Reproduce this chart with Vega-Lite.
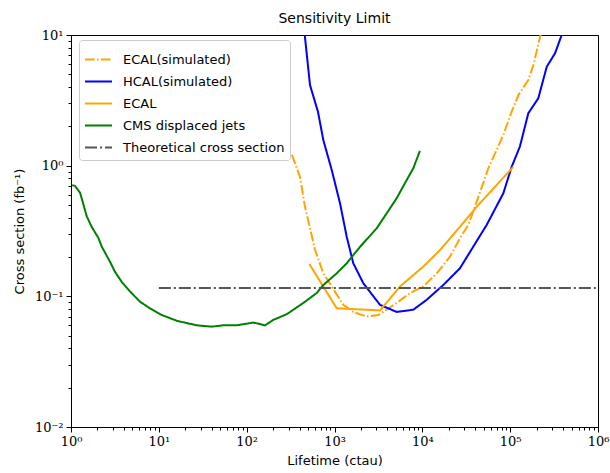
{
  "$schema": "https://vega.github.io/schema/vega-lite/v6.json",
  "width": 527,
  "height": 392,
  "autosize": {"type": "none"},
  "padding": {"left": 71, "top": 35, "right": 12, "bottom": 46},
  "background": "white",
  "title": {"text": "Sensitivity Limit", "font": "DejaVu Sans", "fontSize": 14, "fontWeight": "normal", "color": "black", "offset": 3, "anchor": "middle"},
  "config": {
    "view": {"stroke": "black", "strokeWidth": 1},
    "axis": {"grid": false, "domainColor": "black", "tickColor": "black", "labelColor": "black", "titleColor": "black", "ticks": true, "tickWidth": 1}
  },
  "data": {"values": [
    {"series": "ECAL(simulated)", "x": 328, "y": 1.21},
    {"series": "ECAL(simulated)", "x": 405, "y": 0.82},
    {"series": "ECAL(simulated)", "x": 461, "y": 0.486},
    {"series": "ECAL(simulated)", "x": 526, "y": 0.332},
    {"series": "ECAL(simulated)", "x": 600, "y": 0.227},
    {"series": "ECAL(simulated)", "x": 746, "y": 0.150},
    {"series": "ECAL(simulated)", "x": 929, "y": 0.119},
    {"series": "ECAL(simulated)", "x": 1260, "y": 0.086},
    {"series": "ECAL(simulated)", "x": 1637, "y": 0.076},
    {"series": "ECAL(simulated)", "x": 2326, "y": 0.070},
    {"series": "ECAL(simulated)", "x": 3155, "y": 0.072},
    {"series": "ECAL(simulated)", "x": 3930, "y": 0.079},
    {"series": "ECAL(simulated)", "x": 5100, "y": 0.089},
    {"series": "ECAL(simulated)", "x": 7240, "y": 0.106},
    {"series": "ECAL(simulated)", "x": 10260, "y": 0.119},
    {"series": "ECAL(simulated)", "x": 14580, "y": 0.150},
    {"series": "ECAL(simulated)", "x": 20650, "y": 0.201},
    {"series": "ECAL(simulated)", "x": 26850, "y": 0.279},
    {"series": "ECAL(simulated)", "x": 33400, "y": 0.352},
    {"series": "ECAL(simulated)", "x": 41600, "y": 0.531},
    {"series": "ECAL(simulated)", "x": 56400, "y": 0.955},
    {"series": "ECAL(simulated)", "x": 70300, "y": 1.32},
    {"series": "ECAL(simulated)", "x": 83600, "y": 1.72},
    {"series": "ECAL(simulated)", "x": 104000, "y": 2.59},
    {"series": "ECAL(simulated)", "x": 124000, "y": 3.47},
    {"series": "ECAL(simulated)", "x": 161000, "y": 4.52},
    {"series": "ECAL(simulated)", "x": 184000, "y": 5.89},
    {"series": "ECAL(simulated)", "x": 219000, "y": 9.7},
    {"series": "ECAL(simulated)", "x": 225000, "y": 10.5},

    {"series": "HCAL(simulated)", "x": 455, "y": 10.5},
    {"series": "HCAL(simulated)", "x": 526, "y": 4.14},
    {"series": "HCAL(simulated)", "x": 649, "y": 2.58},
    {"series": "HCAL(simulated)", "x": 746, "y": 1.57},
    {"series": "HCAL(simulated)", "x": 930, "y": 0.927},
    {"series": "HCAL(simulated)", "x": 1156, "y": 0.515},
    {"series": "HCAL(simulated)", "x": 1377, "y": 0.286},
    {"series": "HCAL(simulated)", "x": 1637, "y": 0.179},
    {"series": "HCAL(simulated)", "x": 2128, "y": 0.126},
    {"series": "HCAL(simulated)", "x": 3300, "y": 0.086},
    {"series": "HCAL(simulated)", "x": 5100, "y": 0.076},
    {"series": "HCAL(simulated)", "x": 7890, "y": 0.079},
    {"series": "HCAL(simulated)", "x": 11200, "y": 0.094},
    {"series": "HCAL(simulated)", "x": 17300, "y": 0.122},
    {"series": "HCAL(simulated)", "x": 26800, "y": 0.164},
    {"series": "HCAL(simulated)", "x": 54000, "y": 0.352},
    {"series": "HCAL(simulated)", "x": 83600, "y": 0.615},
    {"series": "HCAL(simulated)", "x": 104000, "y": 0.98},
    {"series": "HCAL(simulated)", "x": 129000, "y": 1.40},
    {"series": "HCAL(simulated)", "x": 161000, "y": 2.52},
    {"series": "HCAL(simulated)", "x": 209000, "y": 3.28},
    {"series": "HCAL(simulated)", "x": 261000, "y": 5.72},
    {"series": "HCAL(simulated)", "x": 324000, "y": 7.24},
    {"series": "HCAL(simulated)", "x": 386000, "y": 10.0},
    {"series": "HCAL(simulated)", "x": 400000, "y": 10.6},

    {"series": "ECAL", "x": 517, "y": 0.177},
    {"series": "ECAL", "x": 1060, "y": 0.081},
    {"series": "ECAL", "x": 3300, "y": 0.078},
    {"series": "ECAL", "x": 5570, "y": 0.119},
    {"series": "ECAL", "x": 10260, "y": 0.169},
    {"series": "ECAL", "x": 15900, "y": 0.226},
    {"series": "ECAL", "x": 26850, "y": 0.341},
    {"series": "ECAL", "x": 41600, "y": 0.485},
    {"series": "ECAL", "x": 108600, "y": 0.98},

    {"series": "CMS displaced jets", "x": 1.03, "y": 0.71},
    {"series": "CMS displaced jets", "x": 1.11, "y": 0.70},
    {"series": "CMS displaced jets", "x": 1.27, "y": 0.62},
    {"series": "CMS displaced jets", "x": 1.51, "y": 0.41},
    {"series": "CMS displaced jets", "x": 1.72, "y": 0.34},
    {"series": "CMS displaced jets", "x": 2.05, "y": 0.28},
    {"series": "CMS displaced jets", "x": 2.24, "y": 0.24},
    {"series": "CMS displaced jets", "x": 2.78, "y": 0.184},
    {"series": "CMS displaced jets", "x": 3.17, "y": 0.154},
    {"series": "CMS displaced jets", "x": 3.78, "y": 0.129},
    {"series": "CMS displaced jets", "x": 4.7, "y": 0.109},
    {"series": "CMS displaced jets", "x": 6.1, "y": 0.091},
    {"series": "CMS displaced jets", "x": 7.9, "y": 0.081},
    {"series": "CMS displaced jets", "x": 10.8, "y": 0.072},
    {"series": "CMS displaced jets", "x": 16, "y": 0.065},
    {"series": "CMS displaced jets", "x": 27, "y": 0.060},
    {"series": "CMS displaced jets", "x": 40, "y": 0.0586},
    {"series": "CMS displaced jets", "x": 54, "y": 0.060},
    {"series": "CMS displaced jets", "x": 77, "y": 0.060},
    {"series": "CMS displaced jets", "x": 119, "y": 0.063},
    {"series": "CMS displaced jets", "x": 162, "y": 0.060},
    {"series": "CMS displaced jets", "x": 201, "y": 0.066},
    {"series": "CMS displaced jets", "x": 286, "y": 0.073},
    {"series": "CMS displaced jets", "x": 442, "y": 0.089},
    {"series": "CMS displaced jets", "x": 627, "y": 0.106},
    {"series": "CMS displaced jets", "x": 746, "y": 0.122},
    {"series": "CMS displaced jets", "x": 1060, "y": 0.150},
    {"series": "CMS displaced jets", "x": 1377, "y": 0.179},
    {"series": "CMS displaced jets", "x": 1638, "y": 0.207},
    {"series": "CMS displaced jets", "x": 1950, "y": 0.239},
    {"series": "CMS displaced jets", "x": 3027, "y": 0.332},
    {"series": "CMS displaced jets", "x": 3930, "y": 0.432},
    {"series": "CMS displaced jets", "x": 5100, "y": 0.563},
    {"series": "CMS displaced jets", "x": 6640, "y": 0.778},
    {"series": "CMS displaced jets", "x": 7890, "y": 0.955},
    {"series": "CMS displaced jets", "x": 9400, "y": 1.30},

    {"series": "Theoretical cross section", "x": 10, "y": 0.1157},
    {"series": "Theoretical cross section", "x": 1000000, "y": 0.1157}
  ]},
  "mark": {"type": "line", "clip": true, "strokeWidth": 2},
  "encoding": {
    "x": {"field": "x", "type": "quantitative",
      "scale": {"type": "log", "domain": [1, 1000000], "nice": false},
      "axis": {"orient": "bottom",
        "values": [1,2,3,4,5,6,7,8,9,10,20,30,40,50,60,70,80,90,100,200,300,400,500,600,700,800,900,1000,2000,3000,4000,5000,6000,7000,8000,9000,10000,20000,30000,40000,50000,60000,70000,80000,90000,100000,200000,300000,400000,500000,600000,700000,800000,900000,1000000],
        "labelExpr": "abs(log(datum.value)/LN10 - round(log(datum.value)/LN10)) > 0.000001 ? '' : '10' + (round(log(datum.value)/LN10) < 0 ? '⁻' : '') + substring('⁰¹²³⁴⁵⁶⁷⁸⁹', abs(round(log(datum.value)/LN10)), abs(round(log(datum.value)/LN10)) + 1)",
        "tickSize": {"condition": {"test": "abs(log(datum.value)/LN10 - round(log(datum.value)/LN10)) > 0.000001", "value": 3}, "value": 5},
        "labelFont": "DejaVu Serif", "labelFontSize": 13, "labelPadding": 3, "labelFlush": false, "labelOverlap": false,
        "title": "Lifetime (ctau)", "titleFont": "DejaVu Sans", "titleFontSize": 13, "titleFontWeight": "normal", "titlePadding": 6}},
    "y": {"field": "y", "type": "quantitative",
      "scale": {"type": "log", "domain": [0.01, 10], "nice": false},
      "axis": {"orient": "left",
        "values": [0.01,0.02,0.03,0.04,0.05,0.06,0.07,0.08,0.09,0.1,0.2,0.3,0.4,0.5,0.6,0.7,0.8,0.9,1,2,3,4,5,6,7,8,9,10],
        "labelExpr": "abs(log(datum.value)/LN10 - round(log(datum.value)/LN10)) > 0.000001 ? '' : '10' + (round(log(datum.value)/LN10) < 0 ? '⁻' : '') + substring('⁰¹²³⁴⁵⁶⁷⁸⁹', abs(round(log(datum.value)/LN10)), abs(round(log(datum.value)/LN10)) + 1)",
        "tickSize": {"condition": {"test": "abs(log(datum.value)/LN10 - round(log(datum.value)/LN10)) > 0.000001", "value": 3}, "value": 5},
        "labelFont": "DejaVu Serif", "labelFontSize": 13, "labelPadding": 3, "labelFlush": false, "labelOverlap": false,
        "title": "Cross section (fb⁻¹)", "titleFont": "DejaVu Sans", "titleFontSize": 13, "titleFontWeight": "normal", "titlePadding": 8}},
    "color": {"field": "series", "type": "nominal",
      "scale": {"domain": ["ECAL(simulated)", "HCAL(simulated)", "ECAL", "CMS displaced jets", "Theoretical cross section"],
        "range": ["#FFA500", "#0000FF", "#FFA500", "#008000", "#555555"]},
      "legend": {"title": null, "orient": "none", "legendX": 8, "legendY": 5,
        "symbolType": "stroke", "symbolSize": 729, "symbolStrokeWidth": 2,
        "labelFont": "DejaVu Sans", "labelFontSize": 13, "labelColor": "black", "labelOffset": 10, "labelLimit": 0,
        "rowPadding": -5, "padding": 5, "fillColor": "white", "strokeColor": "#cccccc", "cornerRadius": 3}},
    "strokeDash": {"field": "series", "type": "nominal",
      "scale": {"domain": ["ECAL(simulated)", "HCAL(simulated)", "ECAL", "CMS displaced jets", "Theoretical cross section"],
        "range": [[9.6, 2.4, 1.5, 2.4], [1, 0], [1, 0], [1, 0], [12, 3, 2, 3]]},
      "legend": {"title": null, "orient": "none", "legendX": 8, "legendY": 5,
        "symbolType": "stroke", "symbolSize": 729, "symbolStrokeWidth": 2,
        "labelFont": "DejaVu Sans", "labelFontSize": 13, "labelColor": "black", "labelOffset": 10, "labelLimit": 0,
        "rowPadding": -5, "padding": 5, "fillColor": "white", "strokeColor": "#cccccc", "cornerRadius": 3}},
    "detail": {"field": "series"}
  }
}
